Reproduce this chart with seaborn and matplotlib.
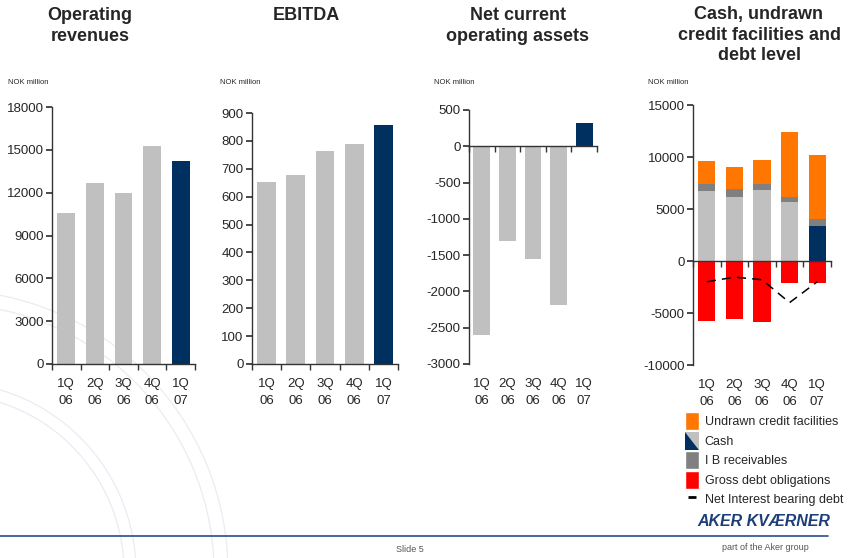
import matplotlib
matplotlib.use("Agg")
import matplotlib.pyplot as plt
import seaborn as sns
import numpy as np
from matplotlib.patches import Patch, Polygon, Circle
from matplotlib.lines import Line2D
from matplotlib.legend_handler import HandlerBase
from matplotlib.ticker import FixedLocator

quarters = ["1Q\n06", "2Q\n06", "3Q\n06", "4Q\n06", "1Q\n07"]

operating_revenues = [10550, 12650, 12000, 15300, 14200]
ebitda = [653, 678, 765, 790, 858]
net_current_assets = [-2600, -1300, -1550, -2190, 320]

cash = [6700, 6200, 6800, 5700, 3400]
ib_receivables = [670, 700, 650, 500, 680]
undrawn_credit = [2200, 2180, 2300, 6250, 6150]
gross_debt = [-5800, -5600, -5850, -2080, -2080]
net_ib_debt = [-2000, -1550, -1800, -4000, -2000]

LIGHT = "#C0C0C0"
NAVY = "#00305F"
ORANGE = "#FF7700"
GREY = "#808080"
RED = "#FF0000"
bar_colors = [LIGHT] * 4 + [NAVY]

sns.set_theme(style="white")
plt.rcParams["font.family"] = ["Liberation Sans", "DejaVu Sans"]
plt.rcParams["axes.unicode_minus"] = False

W, H = 856, 558
fig = plt.figure(figsize=(W / 100, H / 100), dpi=100)

# faint watermark in the background
bg = fig.add_axes([0, 0, 1, 1], zorder=-10)
bg.set_xlim(0, W)
bg.set_ylim(H, 0)
bg.axis("off")
for r in [178, 190, 268, 282]:
    bg.add_patch(Circle((-54, 572), r, fill=False, edgecolor="#E9ECF3", linewidth=0.9))


def make_axes(left, right, top, bottom):
    return fig.add_axes([left / W, 1 - bottom / H, (right - left) / W, (bottom - top) / H])


def style_axes(ax, ylim, step):
    ax.patch.set_alpha(0)
    ax.set_ylim(*ylim)
    ax.set_xlim(-0.5, 4.5)
    ax.set_yticks(np.arange(ylim[0], ylim[1] + 1, step))
    ax.set_xlabel("")
    ax.set_ylabel("")
    for s in ["top", "right"]:
        ax.spines[s].set_visible(False)
    for s in ["left", "bottom"]:
        ax.spines[s].set_color("#333333")
        ax.spines[s].set_linewidth(1.0)
    frac = (0 - ylim[0]) / (ylim[1] - ylim[0])
    ax.spines["bottom"].set_position(("data", 0))
    ax.xaxis.set_minor_locator(FixedLocator(np.arange(-0.5, 5, 1.0)))
    height_pt = ax.get_position().height * H / 100 * 72
    ax.tick_params(axis="x", which="major", length=0, labelsize=9.5,
                   pad=frac * height_pt + 10)
    ax.tick_params(axis="x", which="minor", length=4, direction="out",
                   color="#333333", bottom=True)
    ax.tick_params(axis="y", length=4, direction="out", color="#333333",
                   labelsize=9.5, left=True, pad=2)
    for lab in ax.get_xticklabels():
        lab.set_linespacing(1.6)


# Operating revenues
ax1 = make_axes(52, 195, 107, 364)
sns.barplot(x=quarters, y=operating_revenues, hue=quarters, palette=bar_colors,
            legend=False, width=0.62, saturation=1, linewidth=0, ax=ax1)
style_axes(ax1, (0, 18000), 3000)

# EBITDA
ax2 = make_axes(252, 398, 113, 364)
sns.barplot(x=quarters, y=ebitda, hue=quarters, palette=bar_colors,
            legend=False, width=0.64, saturation=1, linewidth=0, ax=ax2)
style_axes(ax2, (0, 900), 100)

# Net current operating assets
ax3 = make_axes(469, 597, 110, 364)
sns.barplot(x=quarters, y=net_current_assets, hue=quarters, palette=bar_colors,
            legend=False, width=0.65, saturation=1, linewidth=0, ax=ax3)
style_axes(ax3, (-3000, 500), 500)

# Cash, undrawn credit facilities and debt level
ax4 = make_axes(693, 831, 105, 365)
cash_ib = [c + i for c, i in zip(cash, ib_receivables)]
totals = [ci + u for ci, u in zip(cash_ib, undrawn_credit)]
sns.barplot(x=quarters, y=totals, color=ORANGE, width=0.62, saturation=1,
            linewidth=0, ax=ax4)
sns.barplot(x=quarters, y=cash_ib, color=GREY, width=0.62, saturation=1,
            linewidth=0, ax=ax4)
sns.barplot(x=quarters, y=cash, hue=quarters, palette=bar_colors, legend=False,
            width=0.62, saturation=1, linewidth=0, ax=ax4)
sns.barplot(x=quarters, y=gross_debt, color=RED, width=0.62, saturation=1,
            linewidth=0, ax=ax4)
sns.pointplot(x=quarters, y=net_ib_debt, color="black", marker="",
              linestyle=(0, (6, 4)), linewidth=1.1, errorbar=None, ax=ax4)
style_axes(ax4, (-10000, 15000), 5000)

# titles
title_kw = dict(ha="center", va="top", fontsize=13, fontweight="bold",
                linespacing=1.27)
fig.text(90 / W, 1 - 7 / H, "Operating\nrevenues", **title_kw)
fig.text(306 / W, 1 - 7 / H, "EBITDA", **title_kw)
fig.text(518 / W, 1 - 7 / H, "Net current\noperating assets", **title_kw)
fig.text(759 / W, 1 - 6 / H, "Cash, undrawn\ncredit facilities and\ndebt level", **title_kw)

for x in [8, 220, 434, 648]:
    fig.text(x / W, 1 - 83 / H, "NOK million", ha="left", va="center", fontsize=5.5)


class SplitHandler(HandlerBase):
    def create_artists(self, legend, orig_handle, xdescent, ydescent, width,
                       height, fontsize, trans):
        x0, y0 = -xdescent, -ydescent
        light = Polygon([[x0, y0 + height], [x0 + width, y0 + height], [x0 + width, y0]],
                        closed=True, facecolor=LIGHT, edgecolor="none", transform=trans)
        dark = Polygon([[x0, y0 + height], [x0, y0], [x0 + width, y0]],
                       closed=True, facecolor=NAVY, edgecolor="none", transform=trans)
        return [light, dark]


cash_handle = Patch(facecolor=NAVY)
handles = [
    Patch(facecolor=ORANGE),
    cash_handle,
    Patch(facecolor=GREY),
    Patch(facecolor=RED),
    Line2D([], [], color="black", marker="_", linestyle="none",
           markersize=6, markeredgewidth=2),
]
labels = ["Undrawn credit facilities", "Cash", "I B receivables",
          "Gross debt obligations", "Net Interest bearing debt"]
fig.legend(handles, labels, loc="upper left", bbox_to_anchor=(685 / W, 1 - 412 / H),
           frameon=False, fontsize=9, handlelength=1.12, handleheight=1.84,
           handletextpad=0.45, labelspacing=0.12, borderpad=0, borderaxespad=0,
           handler_map={cash_handle: SplitHandler()})

# footer
fig.text(764 / W, 1 - 522 / H, "AKER KVÆRNER", ha="center", va="center",
         fontsize=11.5, fontweight="bold", style="italic", color="#1C3F7A")
fig.add_artist(Line2D([0, 828 / W], [1 - 536 / H, 1 - 536 / H],
                      color="#2B4C8C", linewidth=1.2))
fig.text(410 / W, 1 - 550 / H, "Slide 5", ha="center", va="center",
         fontsize=6.5, color="#555555")
fig.text(765 / W, 1 - 548 / H, "part of the Aker group", ha="center", va="center",
         fontsize=6.5, color="#555555")

fig.savefig("out.png", dpi=100)
